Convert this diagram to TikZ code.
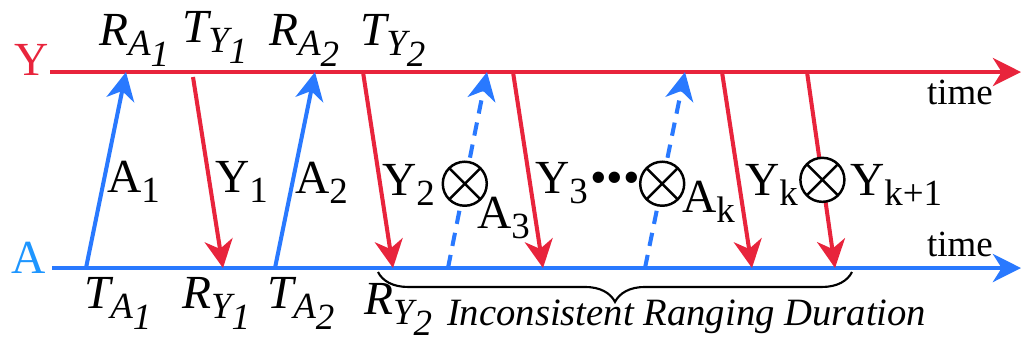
\documentclass[tikz,border=0pt]{standalone}
\usepackage{fontspec}
\setmainfont{Liberation Serif}
\usetikzlibrary{arrows.meta,decorations.pathreplacing}
\definecolor{msgred}{HTML}{E8243C}
\definecolor{msgblue}{HTML}{2979FF}
\definecolor{lblblue}{HTML}{1E96FF}
\newcommand{\msub}[1]{\raisebox{-3pt}{\fontsize{10.5}{12}\selectfont #1}}

\begin{document}
\begin{tikzpicture}[x=0.01cm, y=-0.01cm, line width=1.15pt,
                    >={Stealth[length=8pt,width=8pt,inset=2.5pt]},
                    font=\fontsize{13.5}{16}\selectfont,
                    red msg/.style={->, draw=msgred},
                    blue msg/.style={->, draw=msgblue},
                    lost msg/.style={blue msg, dash pattern=on 3.8pt off 2.6pt},
                    lost/.style={circle, draw=black, fill=white, solid, line width=0.7pt, inner sep=0pt, minimum size=0.44cm,
                      path picture={\draw[-, solid, black, line width=0.7pt]
                        (path picture bounding box.north west) -- (path picture bounding box.south east)
                        (path picture bounding box.north east) -- (path picture bounding box.south west);}},
                    lbl/.style={anchor=base west, inner sep=0pt},
                    time lbl/.style={lbl, font=\fontsize{10.5}{12}\selectfont}]
  \useasboundingbox (0,0) rectangle (1021,341);

  % time lines
  \node[text=msgred, inner sep=0pt] (y) at (32,60) {Y};
  \node[text=lblblue, inner sep=0pt] (a) at (29,258) {A};
  \coordinate (y0) at (50,72);   \coordinate (y9) at (1021,72);
  \coordinate (a0) at (52,268);  \coordinate (a9) at (1021,268);
  \draw[red msg] (y0) -- (y9);
  \draw[blue msg] (a0) -- (a9);
  \node[time lbl] (ytime) at (925,104) {time};
  \node[time lbl] (atime) at (925,256) {time};

  % send / receive instants
  \coordinate (ta1) at (86,268);   \coordinate (ra1) at (126,72);
  \coordinate (ty1) at (193,77);   \coordinate (ry1) at (223,268);
  \coordinate (ta2) at (275,268);  \coordinate (ra2) at (315,72);
  \coordinate (ty2) at (363,72);   \coordinate (ry2) at (393,268);
  \coordinate (ta3) at (448,268);  \coordinate (ra3) at (487,72);
  \coordinate (ty3) at (513,72);   \coordinate (ry3) at (543,268);
  \coordinate (tak) at (645,268);  \coordinate (rak) at (685,72);
  \coordinate (tyk) at (722,72);   \coordinate (ryk) at (752,268);
  \coordinate (tyl) at (807,72);   \coordinate (ryl) at (835,268);

  % messages
  \draw[blue msg] (ta1) -- (ra1);
  \draw[red msg] (ty1) -- (ry1);
  \draw[blue msg] (ta2) -- (ra2);
  \draw[red msg] (ty2) -- (ry2);
  \draw[lost msg] (ta3) -- node[lost, pos=0.43] (x3) {} (ra3);
  \draw[red msg] (ty3) -- (ry3);
  \draw[lost msg] (tak) -- node[lost, pos=0.43] (xk) {} (rak);
  \draw[red msg] (tyk) -- (ryk);
  \draw[red msg] (tyl) -- node[lost, pos=0.55] (xl) {} (ryl);

  \node[lbl] (m1) at (105,192) {A\msub{1}};
  \node[lbl] (n1) at (213,192) {Y\msub{1}};
  \node[lbl] (m2) at (293,193) {A\msub{2}};
  \node[lbl] (n2) at (380,195) {Y\msub{2}};
  \node[lbl] (m3) at (475,228) {A\msub{3}};
  \node[lbl] (n3) at (533,193) {Y\msub{3}};
  \node[inner sep=0pt] (dots) at (615,183) {\textbullet\textbullet\textbullet};
  \node[lbl] (mk) at (680,212) {A\msub{k}};
  \node[lbl] (nk) at (743,195) {Y\msub{k}};
  \node[lbl] (nl) at (848,195) {Y\msub{k+1}};

  % timestamps
  \node[lbl] (lra1) at (97,45)  {\itshape R\msub{A\msub{1}}};
  \node[lbl] (lty1) at (180,42) {\itshape T\msub{Y\msub{1}}};
  \node[lbl] (lra2) at (267,45) {\itshape R\msub{A\msub{2}}};
  \node[lbl] (lty2) at (358,45) {\itshape T\msub{Y\msub{2}}};
  \node[lbl] (lta1) at (82,308)  {\itshape T\msub{A\msub{1}}};
  \node[lbl] (lry1) at (180,308) {\itshape R\msub{Y\msub{1}}};
  \node[lbl] (lta2) at (265,308) {\itshape T\msub{A\msub{2}}};
  \node[lbl] (lry2) at (362,314) {\itshape R\msub{Y\msub{2}}};

  % duration brace
  \coordinate (b0) at (378,272);  \coordinate (b9) at (852,272);
  \draw[line width=0.6pt, decorate, decoration={brace, mirror, amplitude=8.5pt}] (b0) -- (b9);
  \node[lbl, font=\fontsize{11}{13}\selectfont\itshape] (dur) at (445,325) {Inconsistent Ranging Duration};

\end{tikzpicture}
\end{document}
